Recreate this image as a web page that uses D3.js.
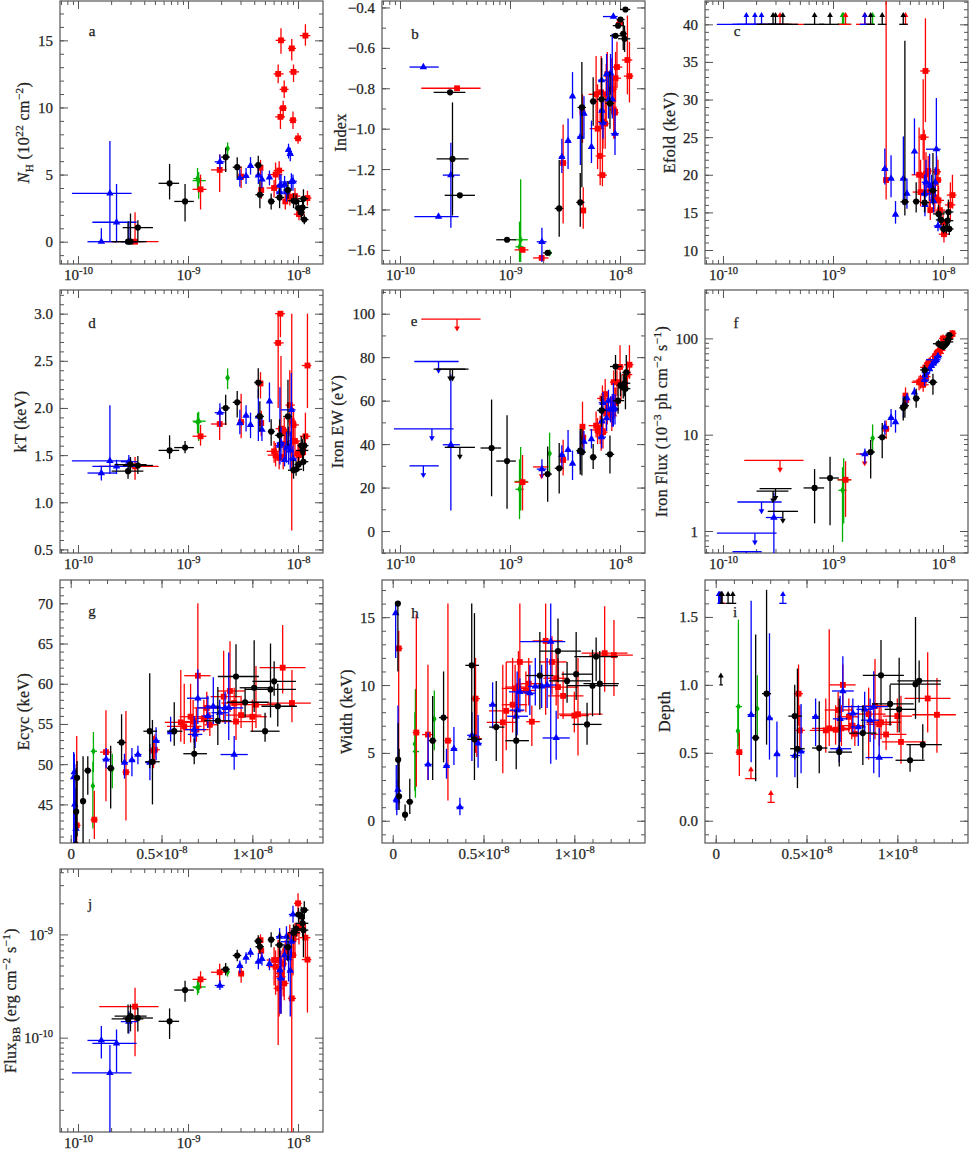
<html>
<head>
<script src="https://d3js.org/d3.v7.min.js"></script>
<style>
  body { margin: 0; background: #fff; }
  text { font-family: "Liberation Serif", serif; fill: #222; stroke: #222; stroke-width: .25px; }
</style>
</head>
<body>
<svg width="969" height="1151"></svg>
<script>
// flux in 1e-8 erg/cm2/s: [centre, low, high]
const fluxBlack = [[.0285,.0202,.0393],[.03,.0215,.042],[.035,.0255,.048],[.068,.054,.083],[.094,.075,.113],[.22,.2,.24],[.28,.255,.305],[.435,.4,.475],[.45,.41,.49],[.57,.531,.615],[.68,.62,.75],[.81,.735,.885],[.91,.81,1.036],[.96,.86,1.09],[1.01,.93,1.1],[1.07,.99,1.15],[1.1,.96,1.24],[1.12,1,1.24],[1.14,1.05,1.245]];
const fluxRed = [[.033,.0156,.054],[.13,.11,.147],[.194,.162,.224],[.304,.285,.325],[.456,.43,.48],[.463,.44,.49],[.606,.518,.68],[.625,.53,.72],[.66,.6,.74],[.674,.6,.75],[.692,.62,.76],[.7,.625,.77],[.733,.67,.79],[.749,.68,.82],[.766,.735,.81],[.842,.77,.935],[.877,.81,.958],[.9,.83,.97],[.91,.83,1.02],[.938,.855,1.05],[1,.92,1.08],[1.02,.915,1.155],[1.167,1.04,1.293],[1.218,1.082,1.322]];
const fluxBlue = [[.0163,.0122,.0225],[.0195,.0088,.0307],[.0224,.0135,.0341],[.029,.0245,.035],[.195,.175,.215],[.296,.28,.315],[.337,.32,.355],[.37,.35,.39],[.436,.41,.465],[.47,.45,.49],[.55,.53,.57],[.68,.63,.745],[.685,.645,.725],[.7,.64,.76],[.755,.725,.785],[.785,.745,.825],[.82,.775,.865],[.85,.8,.9],[.87,.7,.95],[.9,.825,.975]];
const fluxGreen = [[.122,.112,.133],[.125,.11,.145],[.229,.22,.238]];

// per panel values, same order as the flux arrays: [value, low, high],
// [value,'u'] upper limit, [value,'l'] lower limit, null not measured
const nhBlack = [[0,0,1.5],[0,0,2.1],[1.05,0,1.6],[4.35,3.15,5.8],[3,1.5,4.3],[6.3,5.2,7],[5.55,4.7,6.3],[5.7,5,6.4],[3.5,2.5,4.5],[3,2.4,3.6],[3.3,2.5,4],[3.85,3.2,4.5],[3.05,2.5,3.6],[3,2.4,3.5],[2.5,2,3],[2.2,1.7,2.7],[2.55,1.9,3.2],[3.2,2.4,3.9],[1.65,1.3,2]];
const nhRed = [[0,0,2.2],[3.9,2.4,5],[5.35,3.7,6.5],[4.85,4,5.6],[5.5,4.7,6.1],[3.85,3.2,4.5],[4,3.3,4.6],[5,4.2,5.9],[12.5,11.8,13.2],[5.3,4.6,6],[9.3,8.4,10.1],[15,14,15.9],[9.95,9.2,10.5],[11.35,10.7,12],[3,2.4,3.6],[3.35,2.7,4],[14.4,13.5,15.1],[9.05,8.4,9.7],[12.65,11.9,13.2],[3.4,2.8,4],[7.7,7.3,8.1],[2.05,1.6,2.5],[15.35,14.6,16.2],[3.25,2.7,3.8]];
const nhBlue = [[0,0,1],[3.6,0,7.5],[1.45,0,4.3],[0,0,1.5],[5.95,5.4,6.5],[4.75,4.1,5.4],[4.9,4.3,5.5],[5.65,5,6.3],[4.95,4.3,5.6],[4.65,4,5.3],[4.8,4.2,5.3],[3.7,3,4.4],[4.2,3.5,5],[4.2,3.5,5],[4.25,3.6,4.9],[3.7,3,4.4],[6.85,6.2,7.3],[6.55,6,7],[4.45,3.9,5.1],[4.5,3.8,5]];
const nhGreen = [[4.7,3.9,5.5],[4.55,3.2,5.2],[6.95,6.2,7.4]];

const indexBlack = [[-.82,-.83,-.81],[-1.15,-1.43,-.87],[-1.33,-1.34,-1.32],null,[-1.55,-1.56,-1.54],[-1.615,-1.625,-1.605],[-1.395,-1.535,-1.155],[-1.365,-1.485,-1.22],[-.895,-1.29,-.67],[-.865,-.985,-.745],[-.855,-.97,-.65],[-.875,-1,-.72],[-.54,-.55,-.53],[-.49,-.5,-.48],[-.46,-.47,-.45],[-.53,-.61,-.47],[-.555,-.62,-.49],[-.41,-.42,-.4],null];
const indexRed = [[-.8,-.81,-.79],[-1.6,-1.61,-1.59],[-1.64,-1.65,-1.63],[-1.17,-1.47,-.98],[-.92,-1.07,-.83],[-1.405,-1.495,-1.29],[-.83,-1,-.64],[-1,-1.2,-.78],[-1.135,-1.28,-.9],[-.82,-1,-.64],[-1.23,-1.285,-1],[-.965,-1.1,-.82],[-.975,-1.1,-.84],[-.83,-.97,-.68],[-.73,-.86,-.62],[-.805,-.93,-.65],[-.905,-1.05,-.76],[-.92,-1.05,-.77],[-.75,-.87,-.62],[-.695,-.8,-.57],[-.475,-.49,-.46],null,[-.66,-.83,-.44],[-.74,-.87,-.57]];
const indexBlue = [[-.695,-.705,-.685],null,[-1.435,-1.445,-1.425],[-1.23,-1.49,-1.07],[-1.56,-1.66,-1.49],[-1.14,-1.22,-1.05],[-1.06,-1.2,-.95],[-.84,-.95,-.72],[-1.04,-1.18,-.9],[-.925,-1.05,-.84],[-1.09,-1.17,-.96],[-.76,-.87,-.65],[-.91,-1,-.81],[-.97,-1.05,-.85],[-.73,-.84,-.63],[-.855,-.95,-.72],[-.725,-.83,-.63],[-.855,-.95,-.53],[-.445,-.455,-.435],[-1.025,-1.13,-.9]];
const indexGreen = [[-1.585,-1.66,-1.46],[-1.55,-1.66,-1.25],[-1.615,-1.625,-1.605]];

const efoldBlack = [[40,'l'],[40,'l'],[40,'l'],[40,'l'],[40,'l'],[40,'l'],[40,'l'],[40,'l'],[16.4,14.6,37.8],[16.45,15,19],[16.3,15,18],[17.9,16,22.9],[14.8,14,16],[14,13.3,15],[12.8,12.2,13.5],[12.9,12.2,13.7],[13.9,12.8,15],[15.05,14,16.7],[12.8,12,13.5]];
const efoldRed = [[40,'l'],[40,'l'],[40,'l'],[19.3,16.7,45],[40,'l'],null,[20,17.7,26.3],[17.7,15.8,22],[25,22,32.7],[19.9,17,26],[33.8,27,40.8],[20.1,17.5,23],[20.5,18,22.5],[17.7,15.5,20],[15.3,14,16.8],[17,15,19],[20.4,18.5,22.5],[19.3,17,22],[16.6,15,18.5],[15.3,14,16.5],[13.7,12.5,15],[12.1,11,13],[16,14,19],[17.3,15.5,20]];
const efoldBlue = [[40,'l'],[40,'l'],[40,'l'],null,[40,'l'],[20.8,18.7,23.5],[19.5,17,22.6],[14.7,13.5,16.5],[19.5,16,25.1],[17.5,15.5,19.5],[23.1,20,27.5],[17.5,15,20],[16,14.5,18],[19,17,22],[18.6,16.5,22.8],[18.5,16.5,20],[16.5,15,18.5],[19,17,21],[23.4,20,30.2],[13.2,12.5,14.2]];
const efoldGreen = [[40,'l'],[40,'l'],[40,'l']];

const ktBlack = [[1.33,1.25,1.42],[1.4,1.31,1.48],[1.39,1.3,1.49],[1.55,1.46,1.71],[1.58,1.52,1.65],[2,1.82,2.14],[2.06,1.9,2.18],[2.27,2.1,2.42],[1.91,1.75,2.07],[1.75,1.6,1.88],[1.71,1.55,1.88],[1.91,1.6,2.3],[1.34,1.25,1.45],[1.35,1.28,1.44],[1.4,1.33,1.48],[1.6,1.5,1.7],[1.55,1.42,1.67],[1.43,1.33,1.55],[1.6,1.5,1.72]];
const ktRed = [[1.38,1.24,1.48],[1.7,1.6,1.82],[1.83,1.66,2],[1.85,1.68,2.15],[2.26,2.1,2.38],[1.84,1.7,1.97],[1.54,1.42,1.65],[1.5,1.38,1.63],[2.69,2,3],[1.47,1.35,1.6],[3,2.75,3],[1.78,1.6,2.55],[1.48,1.35,1.62],[1.75,1.55,1.9],[1.62,1.45,1.8],[2.03,1.7,2.4],[1.86,.7,3],[1.65,1.4,1.9],[1.82,1.6,2],[1.65,1.45,1.85],[1.52,1.4,1.65],[1.5,1.4,1.62],[1.7,1.5,1.95],[2.45,2,3]];
const ktBlue = [[1.31,1.23,1.38],[1.44,1.3,2.03],[1.38,1.3,1.45],[1.43,1.3,1.5],[1.95,1.8,2.05],[1.84,1.72,1.98],[1.92,1.75,2.03],[1.82,1.68,1.95],[1.91,1.65,2.2],[1.77,1.65,1.9],[2.07,1.85,2.27],[1.6,1.45,1.8],[1.62,1.4,2.22],[1.63,1.45,1.8],[1.45,1.38,1.6],[1.58,1.42,1.75],[1.6,1.4,1.8],[1.55,1.35,1.75],[1.98,1.6,2.37],[1.46,1.35,1.6]];
const ktGreen = [[1.85,1.73,1.95],[1.86,1.65,1.96],[2.32,2.2,2.42]];

const ewBlack = [[74.5,'u'],[74.5,'u'],[38.5,'u'],[38.2,16,60.5],[32.2,10.3,53.3],[26.2,13.5,38.9],[28.9,17.3,40.5],[37,26,47],[36.3,25.5,47],[34,28.5,40],[55.5,48,62],[35.3,26.5,44],[75.7,69,81],[60,54,66],[67,62,73],[66,61,72],[68,62,72],[65.5,56,71],[73,69,81]];
const ewRed = [[97.5,'u'],[22.5,9.5,35],[29.5,'u'],[32.7,25.5,42],[48,39,59.5],[43,38,48],[48.5,43,55],[46.5,40,52],[47,40,53],[45,37,53],[61,55,67],[45.5,38,52],[63,56,70],[54,47,60],[55,49,62],[53,46,62],[68.5,63,74],[60,55,66],[59,53,66],[68.5,62,74],[75.5,69,85.5],[67,60,72],[72,66,78],[76.5,70,85.5]];
const ewBlue = [[30,'u'],[47,'u'],[78,'u'],[39.7,9.5,72],[28.5,24.5,33],[35,29,39.5],[37.3,32.5,46.5],[31,23.5,37],[36.5,28,46],[41.2,37,46],[42.3,38,47],[43.2,38,50],[50.5,45,56],[59,54,64],[52,46,58],[60,55,65],[56,50,62],[56,48,63],[56,48,68],[56.3,49,63]];
const ewGreen = [[19.2,5.5,33],[22.8,9.5,38.7],[35.7,27,45.3]];

const ironBlack = [[2.6,'u'],[2.75,'u'],[1.6,'u'],[2.8,1.2,4.4],[3.55,1.15,5.9],[6.6,3.5,8.8],[9.4,5.7,13.2],[19,14,24],[20,15,25],[23.8,19,30],[47,40,53],[35,26,43],[88,80,97],[85,78,92],[82,76,90],[88,80,95],[92,85,100],[98,90,105],[108,100,116]];
const ironRed = [[5.4,'u'],[3.4,1.4,5.3],[6.3,'u'],[11.5,9,14],[25.5,21,31],[23,19,27],[35,29,41],[36,30,42],[33,28,39],[37,31,44],[50,43,57],[40,34,46],[55,48,62],[56,50,63],[57,51,64],[65,58,72],[70,63,78],[72,65,80],[70,63,78],[75,68,83],[100,92,110],[90,82,98],[105,96,115],[113,104,122]];
const ironBlue = [[.61,'u'],[.95,'u'],[2,'u'],[1.38,.5,2.5],[6.3,5,7.2],[12,10,14],[15,12,18.5],[13.5,10.5,18],[20,15,25],[24,21,27],[27.5,24,31],[37,32,42],[41,36,47],[44,39,50],[48,43,54],[52,47,58],[55,50,61],[58,52,64],[60,54,66],[65,59,71]];
const ironGreen = [[2.65,.77,4.6],[3.4,1.2,5.7],[9.2,6.3,12.8]];

const ecycBlack = [[40,38,44],[44.1,40,49.5],[48.3,41,50.4],[45.4,40,51],[49.2,46.2,51],[49.5,44.5,52.3],[52.7,50.2,56.2],[54.1,49.5,61.3],[50.3,45,55.5],[54.1,52.3,57.7],[51.3,50,53.2],[55.4,52.4,59.6],[60.9,58.3,64.9],[57.7,55.8,59.5],[59.5,56.5,65.4],[54.1,52.8,56.4],[59.3,55.8,65],[60.3,58.5,62.8],[57.2,54.7,60]];
const ecycRed = [[42.4,40,53.5],[43.1,40.7,46.7],[51.5,45.4,56.7],[49,43,56.6],[51.7,49.5,53.5],[51.8,50,53.7],[55.2,52.8,61.7],[54.7,52.5,60],[55.9,52.7,60],[55.3,53.5,58],[54.3,52.8,57],[61,57.7,70],[55.7,54,58],[57,55,59],[54.9,53.5,56.5],[58.4,55.5,64.1],[59.1,56.5,65.3],[57.6,55.5,59.5],[55.3,53,58.3],[56.1,54.5,58.5],[55.9,54,58],[57.4,54.5,62.2],[62,58.8,67.3],[57.6,55.2,61.7]];
const ecycBlue = [[48.4,40,51.5],[49,43,51.3],[45,40,50],[42,40,47],[50.6,49.5,52],[50.2,48.2,51.3],[50.5,48.5,52],[51.2,50,52.3],[50.2,48,52.5],[52.9,50.5,54.6],[54,52.8,55.9],[54.3,52.7,56],[53.7,52,55.5],[58.2,55,61.8],[56,54.5,58.5],[57.2,55,60.8],[56.4,55,58],[57,55,59],[57,53,63.9],[51.2,49.3,53.5]];
const ecycGreen = [[47.3,42,50.3],[51.6,49,54],[49.4,47,51.3]];

const widthBlack = [[16,11,16],[4.5,2.5,7.2],[1.8,.8,5.3],[.45,0,1.2],[1.4,.5,3.1],[5.9,3,9.2],[7.6,4.3,11],[11.45,6,16],[6,3,15.3],[6.9,4.4,10.3],[5.9,3.8,8.2],[10.7,8.2,13.9],[12.5,10.2,14.9],[10.3,8.7,11.7],[10.8,8.9,13.9],[7.1,5.6,8.7],[9.95,7.7,12.6],[12.1,10.3,13.5],[10.1,7.8,12.5]];
const widthRed = [[12.7,1.2,14],[6.5,2.5,15.2],[6.35,3,11.5],[5.9,1.5,16],[9,5,12],[6.05,4.7,9],[7.25,3.5,11.5],[8.1,5.2,11.7],[8.55,6.5,12],[9.75,7.5,11.5],[9.85,8,12.5],[11.7,9.5,16],[9.6,8,11],[10.1,8.5,12],[7.3,5.5,8.5],[13.25,7.8,16],[11.7,9.3,13.6],[10.5,8.5,12.5],[9.85,7.5,12],[9.2,7.5,11],[7.75,6.5,9.5],[7.85,4.8,12],[12.35,9.5,15.8],[12.2,9.2,14.8]];
const widthBlue = [[15.3,12,16],[1.6,.8,4.1],[1.5,.4,3],[2.3,.8,8.5],[4.15,3,6.5],[4.05,3.1,5.3],[5.3,4.1,6.9],[1,.4,1.7],[6.3,4.4,8],[5.7,3.9,7.8],[8.55,6.8,10.2],[7.7,6,9.5],[8.15,6.3,11],[9.5,8,10.5],[9.4,7.8,11.5],[9.9,8.5,12],[9.9,8.3,11.5],[10,8.3,12],[13.2,4.2,16],[6.1,4.5,8.1]];
const widthGreen = [[5.65,2.2,8],[5.1,1.7,9.7],[7.5,5.2,9.6]];

const depthBlack = [[1,'l'],[1.6,'l'],[1.6,'l'],[1.6,'l'],[1.6,'l'],[.61,.29,1.37],[.935,.56,1.7],[.77,.45,1],[.53,.24,1.12],[.535,.35,.88],[.505,.4,.9],[.645,.41,.85],[1.07,.85,1.33],[.86,.7,1],[.82,.65,1.2],[.445,.36,.56],[1.005,.75,1.5],[1.03,.87,1.18],[.56,.45,.71]];
const depthRed = [[1.6,'l'],[.505,.33,.65],[.31,'l'],[.135,'l'],[.935,.7,1.15],[.665,.5,.85],[.665,.5,.9],[.68,.55,1.41],[.67,.56,.85],[.815,.65,.95],[.68,.55,.85],[1,.85,1.15],[.765,.65,.9],[.7,.6,.85],[.64,.55,.72],[.785,.45,.98],[.845,.6,1.19],[.71,.55,.85],[.725,.6,.85],[.635,.52,.75],[.77,.65,.9],[.58,.42,.92],[.9,.65,1.24],[.78,.5,1.05]];
const depthBlue = [[1.6,'l'],[1.6,'l'],[1.6,'l'],[1.6,'l'],[.78,.43,1.62],[.755,.45,1.38],[.49,.32,.73],[1.6,'l'],[.48,.32,.78],[.51,.35,.86],[.765,.55,.9],[.53,.43,.65],[.75,.58,.92],[.955,.8,1.21],[.79,.65,.9],[.69,.55,.85],[.82,.65,.95],[.74,.58,.9],[.84,.35,1.1],[.465,.32,.68]];
const depthGreen = [[.66,.5,.85],[.84,.55,1.48],[.825,.62,1.07]];

// blackbody flux in 1e-10 erg/cm2/s
const fluxBbBlack = [[1.52,1.1,2.1],[1.62,1.15,2.1],[1.55,1.15,1.95],[1.44,.97,1.92],[2.89,2.23,3.56],[4.6,4,5.3],[6.25,5.5,7.1],[8.6,7.5,9.8],[7.6,6.5,9],[8.9,7.5,10.5],[7.9,6,10.5],[7.55,5.5,10],[10.4,8.5,12.5],[11.3,9.5,13],[15.6,13,18],[15,12.5,18.5],[12.8,9.5,17],[11,6,14.5],[17.2,14,21]];
const fluxBbRed = [[2,.66,3.05],[3.67,3,4.4],[4.3,3.3,5.2],[4.17,3.4,5],[8.8,7.5,10],[6.95,5.8,8],[5.65,3.2,7.5],[4.86,2.6,7],[5.65,.85,8.9],[3,1.6,5],[4.2,2,6.6],[3.9,1.7,7],[5.2,2.5,7.5],[3.35,2.3,5],[6.8,5.5,8.8],[9.8,6,12.5],[2.4,.12,6],[6.3,4,8.5],[9,6.5,12],[10.2,6.5,13],[20,16,25],[11.8,8,15],[9.3,6,13],[5.7,1.75,9]];
const fluxBbBlue = [[.94,.63,1.3],[.455,.1,.85],[.88,.46,1.2],[1.43,1.1,1.8],[3.2,2.9,3.6],[4.97,4.2,5.6],[5.95,5.2,6.7],[6.65,6,7.4],[5.45,4.6,6.6],[5.8,5,6.7],[5.2,4.5,5.9],[9.5,6.5,11.5],[4.5,1.7,7],[3.75,1.7,6],[6.3,4.5,8],[9.5,7,12],[5.9,3.5,8],[4.45,1.6,7.5],[8.5,6,11],[15.6,13,19]];
const fluxBbGreen = [[3.05,2.6,3.6],[3.1,2.7,3.6],[4.35,3.9,4.9]];

const colorOf = { green: '#00b000', red: '#ff0000', blue: '#0000ff', black: '#000000' };
const symbolOf = { green: d3.symbolDiamond, red: d3.symbolSquare, blue: d3.symbolTriangle, black: d3.symbolCircle };
const sizeOf = { green: 18, red: 34, blue: 24, black: 30 };
const fluxOf = { green: fluxGreen, red: fluxRed, blue: fluxBlue, black: fluxBlack };
const drawOrder = ['green', 'red', 'blue', 'black'];

const W = 263, H = 263;
const logX = [Math.pow(10, -10.1636), Math.pow(10, -7.773)];
const linX = [-.059e-8, 1.389e-8];

const sup = t => ({ t, k: 'sup' }), sub = t => ({ t, k: 'sub' }), ital = t => ({ t, k: 'i' });
const decade = e => ['10', sup(e)];

const panels = [
  { id: 'a', col: 60, top: 1, lx: 24, tx: 92, ty: 32, xlog: true, dom: [-1.66, 17.93], mul: 1, major: [0,5,10,15], step: 1,
    label: [ital('N'), sub('H'), ' (10', sup('22'), ' cm', sup('−2'), ')'], v: { black: nhBlack, red: nhRed, blue: nhBlue, green: nhGreen } },
  { id: 'b', col: 382, top: 1, lx: 341, tx: 415, ty: 35, xlog: true, dom: [-1.67, -.368], mul: 1, major: [-1.6,-1.4,-1.2,-1,-.8,-.6,-.4], step: .1, fmt: d3.format('-.1f'),
    label: ['Index'], v: { black: indexBlack, red: indexRed, blue: indexBlue, green: indexGreen } },
  { id: 'c', col: 705, top: 1, lx: 670, tx: 737, ty: 32, xlog: true, dom: [8.14, 43.1], mul: 1, major: [10,15,20,25,30,35,40], step: 1,
    label: ['Efold (keV)'], v: { black: efoldBlack, red: efoldRed, blue: efoldBlue, green: efoldGreen } },
  { id: 'd', col: 60, top: 290, lx: 21, tx: 92, ty: 324, xlog: true, dom: [.462, 3.251], mul: 1, major: [.5,1,1.5,2,2.5,3], step: .1, fmt: d3.format('.1f'),
    label: ['kT (keV)'], v: { black: ktBlack, red: ktRed, blue: ktBlue, green: ktGreen } },
  { id: 'e', col: 382, top: 290, lx: 338, tx: 414, ty: 322, xlog: true, dom: [-10.1, 110.9], mul: 1, major: [0,20,40,60,80,100], step: 10,
    label: ['Iron EW (eV)'], v: { black: ewBlack, red: ewRed, blue: ewBlue, green: ewGreen } },
  { id: 'f', col: 705, top: 290, lx: 662, tx: 736, ty: 324, xlog: true, ylog: true, dom: [.591, 318], mul: 1, major: [1,10,100], fmt: d3.format('d'),
    label: ['Iron Flux (10', sup('−3'), ' ph cm', sup('−2'), ' s', sup('−1'), ')'], v: { black: ironBlack, red: ironRed, blue: ironBlue, green: ironGreen } },
  { id: 'g', col: 60, top: 580, lx: 24, tx: 92, ty: 612, dom: [40.2, 72.9], mul: 1, major: [45,50,55,60,65,70], step: 1,
    label: ['Ecyc (keV)'], v: { black: ecycBlack, red: ecycRed, blue: ecycBlue, green: ecycGreen } },
  { id: 'h', col: 382, top: 580, lx: 347, tx: 415, ty: 614, dom: [-1.64, 17.74], mul: 1, major: [0,5,10,15], step: 1,
    label: ['Width (keV)'], v: { black: widthBlack, red: widthRed, blue: widthBlue, green: widthGreen } },
  { id: 'i', col: 705, top: 580, lx: 665, tx: 735, ty: 613, dom: [-.164, 1.772], mul: 1, major: [0,.5,1,1.5], step: .1, fmt: d3.format('.1f'),
    label: ['Depth'], v: { black: depthBlack, red: depthRed, blue: depthBlue, green: depthGreen } },
  { id: 'j', col: 60, top: 869, lx: 11, tx: 90, ty: 905, xlog: true, ylog: true, dom: [1.22e-11, 4.3e-9], mul: 1e-10, major: [1e-10,1e-9],
    fmt: d => decade(String(Math.round(Math.log10(d)))),
    label: ['Flux', sub('BB'), ' (erg cm', sup('−2'), ' s', sup('−1'), ')'], v: { black: fluxBbBlack, red: fluxBbRed, blue: fluxBbBlue, green: fluxBbGreen } }
];

// writes a list of plain and styled pieces into a text node as tspans
function writeRich(node, parts) {
  const text = d3.select(node).text('').attr('dy', null);
  let shift = 0;
  [].concat(parts).forEach(p => {
    const piece = typeof p === 'string' ? { t: p } : p;
    const target = piece.k === 'sup' ? -.38 : piece.k === 'sub' ? .22 : 0;
    const small = piece.k === 'sup' || piece.k === 'sub';
    // dy em is relative to the span's own font size
    const span = text.append('tspan').text(piece.t).attr('dy', ((target - shift) / (small ? .7 : 1)) + 'em');
    if (small) span.attr('font-size', '70%');
    if (piece.k === 'i') span.attr('font-style', 'italic');
    shift = target;
  });
}

const logMinors = dom => {
  const out = [];
  for (let e = Math.floor(Math.log10(dom[0])); e <= Math.ceil(Math.log10(dom[1])); e++) {
    for (let m = 2; m < 10; m++) out.push(m * Math.pow(10, e));
  }
  return out.filter(v => v >= dom[0] && v <= dom[1]);
};
const linMinors = (dom, step) => d3.range(Math.ceil(dom[0] / step), Math.floor(dom[1] / step) + 1).map(k => k * step);

const svg = d3.select('svg');

panels.forEach(p => {
  const x = (p.xlog ? d3.scaleLog() : d3.scaleLinear()).domain(p.xlog ? logX : linX).range([0, W]);
  const y = (p.ylog ? d3.scaleLog() : d3.scaleLinear()).domain(p.dom).range([H, 0]);
  const g = svg.append('g').attr('transform', `translate(${p.col},${p.top})`);

  g.append('clipPath').attr('id', 'clip-' + p.id).append('rect').attr('width', W).attr('height', H);

  // x ticks
  const xMajor = p.xlog ? [1e-10, 1e-9, 1e-8] : [0, .5e-8, 1e-8];
  const xMinor = p.xlog ? logMinors(logX) : linMinors(linX, .1e-8);
  const xLabel = p.xlog ? d => decade('-' + Math.abs(Math.round(Math.log10(d))))
    : d => d === 0 ? '0' : d === 1e-8 ? ['1×10', sup('-8')] : ['0.5×10', sup('-8')];
  const yMinor = p.ylog ? logMinors(p.dom) : linMinors(p.dom, p.step);
  const yLabel = p.fmt || (d => String(d));

  const axis = (gen, scale, values, size, at) => {
    const a = g.append('g').attr('transform', at || null)
      .call(d3[gen](scale).tickValues(values).tickSize(-size).tickSizeOuter(0).tickFormat(''));
    a.select('.domain').remove();
    a.selectAll('line').attr('stroke', '#555').attr('stroke-width', 1);
    return a;
  };
  axis('axisTop', x, xMinor, 4);
  axis('axisBottom', x, xMinor, 4, `translate(0,${H})`);
  axis('axisLeft', y, yMinor, 4);
  axis('axisRight', y, yMinor, 4, `translate(${W},0)`);
  axis('axisTop', x, xMajor, 8);
  axis('axisRight', y, p.major, 8, `translate(${W},0)`);

  const bottom = g.append('g').attr('transform', `translate(0,${H})`)
    .call(d3.axisBottom(x).tickValues(xMajor).tickSize(-8).tickSizeOuter(0));
  bottom.select('.domain').remove();
  bottom.selectAll('line').attr('stroke', '#555');
  bottom.selectAll('.tick text').attr('font-size', 15).attr('font-family', null).attr('y', 16)
    .each(function (d) { writeRich(this, xLabel(d)); });

  const left = g.append('g')
    .call(d3.axisLeft(y).tickValues(p.major).tickSize(-8).tickSizeOuter(0).tickPadding(7));
  left.select('.domain').remove();
  left.selectAll('line').attr('stroke', '#555');
  left.selectAll('.tick text').attr('font-size', 15).attr('font-family', null).attr('y', 5)
    .each(function (d) { writeRich(this, yLabel(d)); });

  g.append('rect').attr('width', W).attr('height', H).attr('fill', 'none').attr('stroke', '#555').attr('stroke-width', 1.2);

  // marks
  const plot = g.append('g').attr('clip-path', `url(#clip-${p.id})`);
  drawOrder.forEach(name => {
    const flux = fluxOf[name], color = colorOf[name];
    p.v[name].forEach((row, i) => {
      if (!row) return;
      const fx = flux[i].map(f => x(f * 1e-8));
      const py = y(row[0] * p.mul);
      const mark = plot.append('g').attr('stroke', color).attr('stroke-width', 1.3);
      mark.append('line').attr('x1', fx[1]).attr('x2', fx[2]).attr('y1', py).attr('y2', py);
      if (typeof row[1] === 'string') {
        // limit: bar at the value, short stem and arrow head
        const dir = row[1] === 'u' ? 1 : -1;
        mark.append('line').attr('x1', fx[0]).attr('x2', fx[0]).attr('y1', py).attr('y2', py + dir * 9);
        mark.append('path').attr('d', d3.symbol().type(d3.symbolTriangle).size(14))
          .attr('transform', `translate(${fx[0]},${py + dir * 9}) rotate(${dir > 0 ? 180 : 0})`)
          .attr('fill', color).attr('stroke', 'none');
      } else {
        mark.append('line').attr('x1', fx[0]).attr('x2', fx[0])
          .attr('y1', y(Math.max(row[1] * p.mul, p.ylog ? p.dom[0] : -Infinity))).attr('y2', y(row[2] * p.mul));
        mark.append('path').attr('d', d3.symbol().type(symbolOf[name]).size(sizeOf[name]))
          .attr('transform', `translate(${fx[0]},${py})`).attr('fill', color).attr('stroke', 'none');
      }
    });
  });

  // panel letter and y title
  g.append('text').attr('x', p.tx - p.col).attr('y', p.ty - p.top + 4).attr('font-size', 15).attr('text-anchor', 'middle').text(p.id);
  const title = g.append('text').attr('transform', `translate(${p.lx - p.col + 5},${H / 2}) rotate(-90)`)
    .attr('font-size', 16).attr('text-anchor', 'middle').style('letter-spacing', '.4px');
  writeRich(title.node(), p.label);
});
</script>
</body>
</html>
